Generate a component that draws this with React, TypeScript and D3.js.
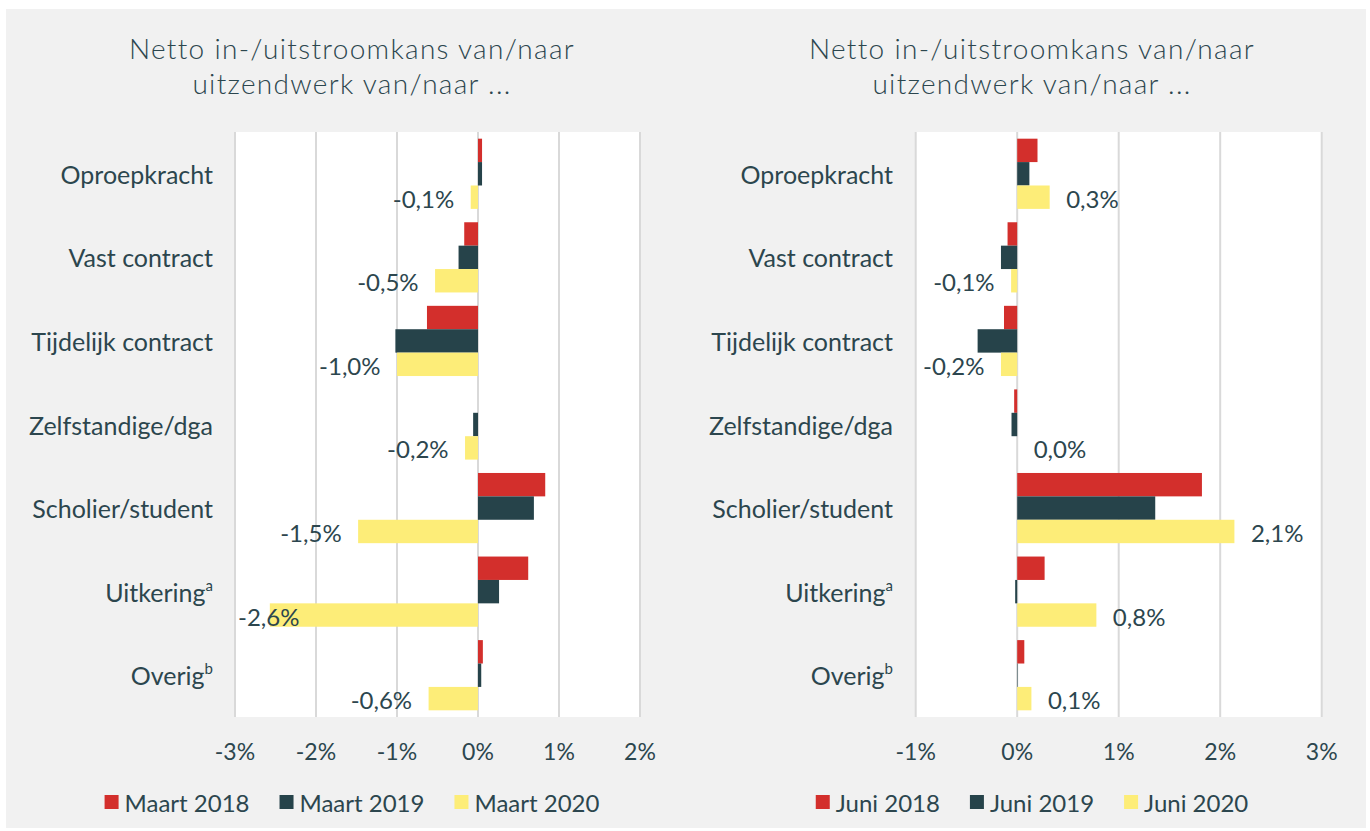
import React from "react";
import * as d3 from "d3";

const categories = ["Oproepkracht", "Vast contract", "Tijdelijk contract", "Zelfstandige/dga", "Scholier/student", "Uitkering", "Overig"];
const categorySup = ["", "", "", "", "", "a", "b"];

const leftSeriesNames = ["Maart 2018", "Maart 2019", "Maart 2020"];
const maart2018 = [0.05, -0.17, -0.63, 0.0, 0.83, 0.62, 0.06];
const maart2019 = [0.05, -0.24, -1.02, -0.06, 0.69, 0.26, 0.04];
const maart2020 = [-0.09, -0.53, -1.0, -0.16, -1.48, -2.57, -0.61];

const rightSeriesNames = ["Juni 2018", "Juni 2019", "Juni 2020"];
const juni2018 = [0.2, -0.095, -0.13, -0.03, 1.82, 0.27, 0.07];
const juni2019 = [0.12, -0.16, -0.39, -0.056, 1.36, -0.02, 0.005];
const juni2020 = [0.32, -0.06, -0.16, 0.0, 2.14, 0.78, 0.14];

const leftTicks = [-3, -2, -1, 0, 1, 2];
const rightTicks = [-1, 0, 1, 2, 3];

const titleLines = ["Netto in-/uitstroomkans van/naar", "uitzendwerk van/naar ..."];

const COLORS = ["#d32f2c", "#26434a", "#fded78"];
const TEXT = "#2c464e";
const GRID = "#d9d9d9";
const FONT = "Lato, 'Open Sans', sans-serif";

let ctx: CanvasRenderingContext2D | null = null;
function measure(text: string, size: number, weight = 400) {
  if (!ctx) {
    const c = document.createElement("canvas");
    ctx = c.getContext("2d");
  }
  if (!ctx) return text.length * size * 0.5;
  ctx.font = `${weight} ${size}px Lato`;
  return ctx.measureText(text).width;
}

const fmt = (v: number) => v.toFixed(1).replace(".", ",") + "%";

type PanelProps = {
  cx: number;
  plotX: [number, number];
  domain: [number, number];
  ticks: number[];
  series: number[][];
  names: string[];
  labelRight: number;
};

function Panel({ cx, plotX, domain, ticks, series, names, labelRight }: PanelProps) {
  const plotTop = 132;
  const plotBottom = 717;
  const x = d3.scaleLinear().domain(domain).range(plotX);
  const y = d3.scaleBand<string>().domain(categories).range([plotTop, plotBottom]).paddingInner(0.16).paddingOuter(0.08);
  const sub = d3.scaleBand<number>().domain([0, 1, 2]).range([0, y.bandwidth()]);
  const x0 = x(0);
  const labelSize = 24;
  const gap = 16.5;

  // legend layout
  const legSize = 24;
  const sq = 14;
  const itemWidths = names.map((n) => sq + 6 + measure(n, legSize));
  const legGap = 30;
  const total = d3.sum(itemWidths) + legGap * (names.length - 1);
  let lx = cx - total / 2;
  const legendItems = names.map((n, i) => {
    const item = { name: n, x: lx, color: COLORS[i] };
    lx += itemWidths[i] + legGap;
    return item;
  });

  return (
    <g>
      {titleLines.map((t, i) => (
        <text key={i} x={cx} y={48 + i * 35} textAnchor="middle" dominantBaseline="central" fontSize={28} fontWeight={300} letterSpacing={1.3} fill={TEXT} fontFamily={FONT}>
          {t}
        </text>
      ))}
      <rect x={plotX[0]} y={plotTop} width={plotX[1] - plotX[0]} height={plotBottom - plotTop} fill="#ffffff" />
      {ticks.map((t) => (
        <line key={t} x1={x(t)} x2={x(t)} y1={plotTop} y2={plotBottom} stroke={GRID} strokeWidth={2} />
      ))}
      {ticks.map((t) => (
        <text key={"l" + t} x={x(t)} y={751} textAnchor="middle" dominantBaseline="central" fontSize={23} fill={TEXT} fontFamily={FONT}>
          {t + "%"}
        </text>
      ))}
      {categories.map((c, i) => (
        <text key={c} x={labelRight} y={(y(c) as number) + y.bandwidth() / 2} textAnchor="end" dominantBaseline="central" fontSize={25} fill={TEXT} fontFamily={FONT}>
          {c}
          {categorySup[i] ? (
            <tspan fontSize={15} dy={-7}>
              {categorySup[i]}
            </tspan>
          ) : null}
        </text>
      ))}
      {series.map((vals, si) =>
        vals.map((v, ci) => {
          const yy = (y(categories[ci]) as number) + (sub(si) as number);
          const xa = Math.min(x(v), x0);
          const w = Math.abs(x(v) - x0);
          return <rect key={si + "-" + ci} x={xa} y={yy} width={w} height={sub.bandwidth()} fill={COLORS[si]} />;
        })
      )}
      {series[2].map((v, ci) => {
        const yy = (y(categories[ci]) as number) + (sub(2) as number) + sub.bandwidth() / 2;
        const label = fmt(v);
        const tw = measure(label, labelSize);
        let lxp: number;
        if (v < 0) {
          lxp = x(v) - gap - tw;
          if (lxp < plotX[0] + 3) lxp = plotX[0] + 3;
        } else {
          lxp = x(v) + gap;
        }
        return (
          <text key={"d" + ci} x={lxp} y={yy + 1} textAnchor="start" dominantBaseline="central" fontSize={labelSize} fill={TEXT} fontFamily={FONT}>
            {label}
          </text>
        );
      })}
      {legendItems.map((it) => (
        <g key={it.name}>
          <rect x={it.x} y={795} width={sq} height={sq} fill={it.color} />
          <text x={it.x + sq + 6} y={802} dominantBaseline="central" fontSize={legSize} fill={TEXT} fontFamily={FONT}>
            {it.name}
          </text>
        </g>
      ))}
    </g>
  );
}

export default function App() {
  return (
    <svg width={1370} height={831} style={{ position: "absolute", left: 0, top: 0, background: "#ffffff" }}>
      <rect x={6} y={9} width={1360} height={819} fill="#f1f1f1" />
      <Panel cx={352} plotX={[235, 640]} domain={[-3, 2]} ticks={leftTicks} series={[maart2018, maart2019, maart2020]} names={leftSeriesNames} labelRight={213} />
      <Panel cx={1032} plotX={[915.7, 1321.7]} domain={[-1, 3]} ticks={rightTicks} series={[juni2018, juni2019, juni2020]} names={rightSeriesNames} labelRight={893} />
    </svg>
  );
}
